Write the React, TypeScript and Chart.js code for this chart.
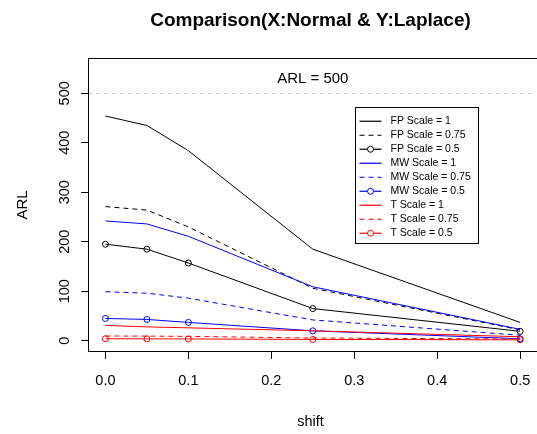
import React, { useEffect, useRef } from 'react';
import { Chart, registerables } from 'chart.js';

Chart.register(...registerables);

// ---- data ----
const shifts = [0, 0.05, 0.1, 0.25, 0.5];
const fpScale1 = [454, 435, 384, 185, 37];
const fpScale075 = [271, 264, 230, 106, 22];
const fpScale05 = [195, 185, 157, 65, 19];
const mwScale1 = [242, 236, 211, 109, 23];
const mwScale075 = [99, 96, 86, 42, 11];
const mwScale05 = [45, 43, 37, 20, 4];
const tScale1 = [31, 28, 26, 20, 8];
const tScale075 = [9.5, 9.3, 8.7, 5.5, 3.5];
const tScale05 = [4, 3.8, 3.6, 2.6, 1.8];

const seriesLabels = [
  'FP Scale = 1', 'FP Scale = 0.75', 'FP Scale = 0.5',
  'MW Scale = 1', 'MW Scale = 0.75', 'MW Scale = 0.5',
  'T Scale = 1', 'T Scale = 0.75', 'T Scale = 0.5',
];
const seriesValues = [
  fpScale1, fpScale075, fpScale05,
  mwScale1, mwScale075, mwScale05,
  tScale1, tScale075, tScale05,
];
const seriesColors = ['#000000', '#000000', '#000000', '#0000ff', '#0000ff', '#0000ff', '#ff0000', '#ff0000', '#ff0000'];
const seriesDashed = [false, true, false, false, true, false, false, true, false];
const seriesPoints = [false, false, true, false, false, true, false, false, true];

const xTickValues = [0, 0.1, 0.2, 0.3, 0.4, 0.5];
const yTickValues = [0, 100, 200, 300, 400, 500];
const arlLimit = 500;
const arlLabel = 'ARL = 500';
const arlLabelPos = { x: 0.25, y: 530 };

const titleText = 'Comparison(X:Normal & Y:Laplace)';
const xTitle = 'shift';
const yTitle = 'ARL';

const FONT = '"Liberation Sans", Arial, Helvetica, sans-serif';
const DASH = [5, 4];

const rFramePlugin = {
  id: 'rFrame',
  beforeDatasetsDraw(chart: any) {
    const { ctx, chartArea } = chart;
    const ys = chart.scales.y;
    const xs = chart.scales.x;
    ctx.save();
    // horizontal reference line (abline h=500)
    const yy = Math.round(ys.getPixelForValue(arlLimit)) + 0.5;
    ctx.strokeStyle = '#c8c8c8';
    ctx.lineWidth = 1;
    ctx.setLineDash([4, 4]);
    ctx.beginPath();
    ctx.moveTo(chartArea.left, yy);
    ctx.lineTo(chartArea.right, yy);
    ctx.stroke();
    ctx.setLineDash([]);
    // text
    ctx.fillStyle = '#000';
    ctx.font = `15px ${FONT}`;
    ctx.textAlign = 'center';
    ctx.textBaseline = 'middle';
    ctx.fillText(arlLabel, xs.getPixelForValue(arlLabelPos.x), ys.getPixelForValue(arlLabelPos.y));
    ctx.restore();
  },
  afterDraw(chart: any) {
    const { ctx, chartArea } = chart;
    ctx.save();
    // box around the plot region (its right side falls just outside the canvas)
    ctx.strokeStyle = '#000';
    ctx.lineWidth = 1;
    ctx.setLineDash([]);
    ctx.strokeRect(chartArea.left + 0.5, chartArea.top + 0.5, chartArea.right - chartArea.left + 6, chartArea.bottom - chartArea.top - 1);

    // legend
    const lx = chartArea.left + 267.5;
    const ly = chartArea.top + 49.5;
    const lw = 123;
    const lh = 136;
    ctx.fillStyle = '#fff';
    ctx.fillRect(lx, ly, lw, lh);
    ctx.strokeStyle = '#000';
    ctx.strokeRect(lx, ly, lw, lh);
    ctx.font = `10.5px ${FONT}`;
    ctx.textAlign = 'left';
    ctx.textBaseline = 'middle';
    seriesLabels.forEach((label, i) => {
      const cy = Math.round(ly + 13 + i * 14) + 0.25;
      const col = seriesColors[i];
      ctx.strokeStyle = col;
      ctx.lineWidth = 1.2;
      ctx.setLineDash(seriesDashed[i] ? DASH : []);
      ctx.beginPath();
      ctx.moveTo(lx + 4, cy);
      ctx.lineTo(lx + 26, cy);
      ctx.stroke();
      ctx.setLineDash([]);
      if (seriesPoints[i]) {
        ctx.lineWidth = 1;
        ctx.beginPath();
        ctx.arc(lx + 15, cy, 3, 0, Math.PI * 2);
        ctx.fillStyle = '#fff';
        ctx.fill();
        ctx.strokeStyle = col;
        ctx.stroke();
      }
      ctx.fillStyle = '#000';
      ctx.fillText(label, lx + 35, cy);
    });
    ctx.restore();
  },
};

export default function App() {
  const ref = useRef<HTMLCanvasElement | null>(null);

  useEffect(() => {
    if (!ref.current) return;
    Chart.defaults.color = '#000';
    Chart.defaults.font.family = FONT;

    const datasets = seriesLabels.map((label, i) => ({
      label,
      data: shifts.map((x, j) => ({ x, y: seriesValues[i][j] })),
      borderColor: seriesColors[i],
      backgroundColor: 'rgba(0,0,0,0)',
      borderWidth: 1,
      borderDash: seriesDashed[i] ? DASH : [],
      pointRadius: seriesPoints[i] ? 3 : 0,
      pointHoverRadius: seriesPoints[i] ? 3 : 0,
      pointBorderWidth: 1,
      pointBorderColor: seriesColors[i],
      pointBackgroundColor: 'rgba(0,0,0,0)',
      pointStyle: 'circle',
      tension: 0,
      fill: false,
      order: seriesLabels.length - i,
    }));

    const chart = new Chart(ref.current, {
      type: 'line',
      data: { datasets },
      options: {
        animation: false,
        responsive: false,
        events: [],
        layout: { padding: 0 },
        plugins: {
          legend: { display: false },
          tooltip: { enabled: false },
          title: {
            display: true,
            text: titleText,
            fullSize: false,
            color: '#000',
            font: { size: 19, weight: 'bold', family: FONT, lineHeight: 1.2 },
            padding: { top: 9.5, bottom: 25.7 },
          },
        },
        scales: {
          x: {
            type: 'linear',
            min: -0.021,
            max: 0.5155,
            afterFit: (s: any) => { s.height = 82; s.paddingLeft = 0; s.paddingRight = 0; },
            afterBuildTicks: (s: any) => { s.ticks = xTickValues.map((value) => ({ value })); },
            grid: { drawOnChartArea: false, drawTicks: true, tickLength: 7, color: '#000', lineWidth: 1 },
            border: { display: false },
            ticks: {
              autoSkip: false,
              minRotation: 0,
              maxRotation: 0,
              padding: 13,
              font: { size: 14.5, family: FONT },
              color: '#000',
              callback: (v: any) => Number(v).toFixed(1),
            },
            title: {
              display: true,
              text: xTitle,
              color: '#000',
              font: { size: 14.5, family: FONT, lineHeight: 1.2 },
              padding: { top: 0, bottom: 3.5 },
            },
          },
          y: {
            type: 'linear',
            min: -22.8,
            max: 571.3,
            afterFit: (s: any) => { s.width = 88; s.paddingTop = 0; s.paddingBottom = 0; },
            afterBuildTicks: (s: any) => { s.ticks = yTickValues.map((value) => ({ value })); },
            grid: { drawOnChartArea: false, drawTicks: true, tickLength: 7, color: '#000', lineWidth: 1 },
            border: { display: false },
            ticks: {
              autoSkip: false,
              minRotation: 90,
              maxRotation: 90,
              crossAlign: 'center',
              padding: 4,
              font: { size: 14.5, family: FONT },
              color: '#000',
              callback: (v: any) => String(v),
            },
            title: {
              display: true,
              text: yTitle,
              color: '#000',
              font: { size: 15, family: FONT, lineHeight: 1.2 },
              padding: { top: 14, bottom: 0 },
            },
          },
        },
      },
      plugins: [rFramePlugin],
    } as any);

    return () => chart.destroy();
  }, []);

  return (
    <div style={{ position: 'absolute', left: 0, top: 0, width: 537, height: 434, background: '#fff' }}>
      <canvas ref={ref} width={537} height={434} style={{ display: 'block', width: 537, height: 434 }} />
    </div>
  );
}
